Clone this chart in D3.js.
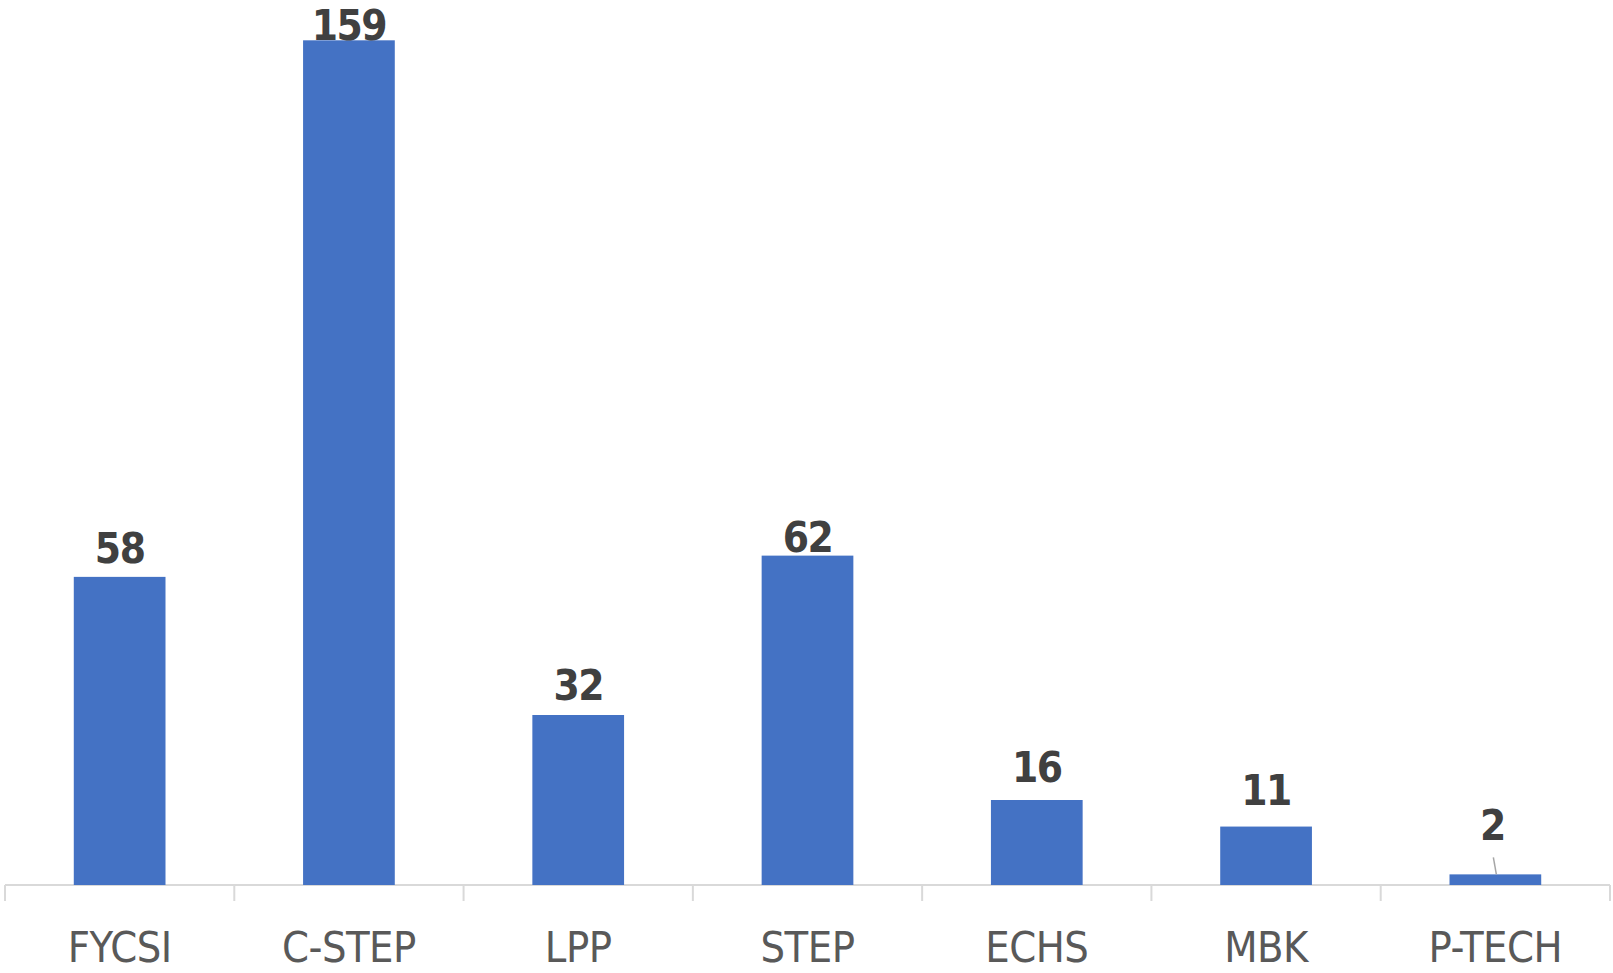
<!DOCTYPE html>
<html>
<head>
<meta charset="utf-8">
<script src="https://cdn.jsdelivr.net/npm/d3@7"></script>
<style>
  body { margin: 0; background: #fff; }
  svg { display: block; }
  .cat { font-family: "Liberation Sans Narrow", "DejaVu Sans Condensed", "Roboto", sans-serif; font-stretch: condensed; fill: #595959; }
  .val { font-family: "Liberation Sans Narrow", "DejaVu Sans Condensed", "Roboto", sans-serif; font-stretch: condensed; font-weight: bold; fill: #404040; }
</style>
</head>
<body>
<div id="chart"></div>
<script>
const categories = ["FYCSI", "C-STEP", "LPP", "STEP", "ECHS", "MBK", "P-TECH"];
const values = [58, 159, 32, 62, 16, 11, 2];

const width = 1613, height = 973;
const margin = { top: 35, right: 3, bottom: 88, left: 5 };

// gap between bar top and label baseline, as placed in the original
const labelGap = { "FYCSI": 14, "C-STEP": 0, "LPP": 15, "STEP": 4, "ECHS": 18, "MBK": 22, "P-TECH": 34 };

const svg = d3.select("#chart").append("svg")
  .attr("width", width)
  .attr("height", height);

const x = d3.scaleBand()
  .domain(categories)
  .range([margin.left, width - margin.right])
  .paddingInner(0.6)
  .paddingOuter(0.3);

const y = d3.scaleLinear()
  .domain([0, 160])
  .range([height - margin.bottom, margin.top]);

const axisY = y(0);
const plotW = width - margin.left - margin.right;

svg.append("line")
  .attr("x1", margin.left).attr("x2", width - margin.right)
  .attr("y1", axisY).attr("y2", axisY)
  .attr("stroke", "#d9d9d9").attr("stroke-width", 2);

svg.selectAll("line.tick")
  .data(d3.range(categories.length + 1))
  .join("line")
  .attr("class", "tick")
  .attr("x1", (i) => margin.left + i * plotW / categories.length)
  .attr("x2", (i) => margin.left + i * plotW / categories.length)
  .attr("y1", axisY).attr("y2", axisY + 16)
  .attr("stroke", "#d9d9d9").attr("stroke-width", 2);

const data = categories.map((c, i) => ({ cat: c, value: values[i] }));

svg.selectAll("rect.bar")
  .data(data)
  .join("rect")
  .attr("class", "bar")
  .attr("x", (d) => x(d.cat))
  .attr("y", (d) => y(d.value))
  .attr("width", x.bandwidth())
  .attr("height", (d) => axisY - y(d.value))
  .attr("fill", "#4472c4");

svg.selectAll("text.cat")
  .data(data)
  .join("text")
  .attr("class", "cat")
  .attr("x", (d) => x(d.cat) + x.bandwidth() / 2)
  .attr("y", axisY + 77)
  .attr("text-anchor", "middle")
  .attr("font-size", 43)
  .attr("letter-spacing", -0.5)
  .text((d) => d.cat);

svg.selectAll("text.val")
  .data(data)
  .join("text")
  .attr("class", "val")
  .attr("x", (d) => x(d.cat) + x.bandwidth() / 2 - (d.value === 2 ? 3 : 0))
  .attr("y", (d) => Math.max(y(d.value) - labelGap[d.cat], 38))
  .attr("text-anchor", "middle")
  .attr("font-size", 42)
  .attr("letter-spacing", -1.5)
  .text((d) => d.value);

// leader line for the small P-TECH label
svg.selectAll("line.leader")
  .data(data.filter((d) => d.value === 2))
  .join("line")
  .attr("class", "leader")
  .attr("x1", (d) => x(d.cat) + x.bandwidth() / 2 - 2)
  .attr("y1", (d) => y(d.value) - 17)
  .attr("x2", (d) => x(d.cat) + x.bandwidth() / 2 + 1)
  .attr("y2", (d) => y(d.value))
  .attr("stroke", "#a6a6a6").attr("stroke-width", 1.5);
</script>
</body>
</html>
